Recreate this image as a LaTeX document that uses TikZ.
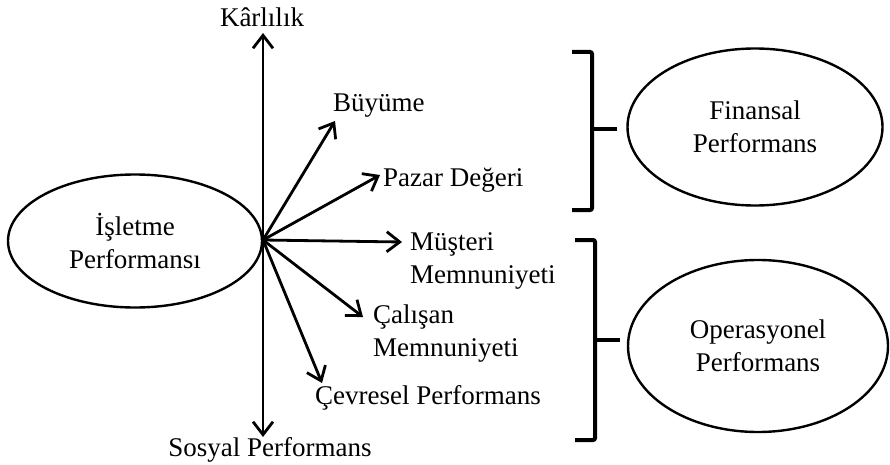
\documentclass[tikz,border=0pt]{standalone}
\usepackage{fontspec}
\setmainfont{Liberation Serif}
\usetikzlibrary{arrows.meta,shapes.geometric}
\tikzset{
  lbl/.style={inner sep=0pt, font=\fontsize{27}{33}\selectfont, align=left},
  oval/.style={draw, ellipse, line width=2.4pt, inner sep=0pt, font=\fontsize{27}{33}\selectfont, align=center},
  vec/.style={line width=2.8pt, -{Straight Barb[length=13pt,width=20pt,line width=2.8pt]}},
  brace/.style={line width=4pt, rounded corners=2pt}
}
\begin{document}
\begin{tikzpicture}[x=1pt,y=-1pt]
\useasboundingbox (0,0) rectangle (890,465);
% ellipses
\node[oval, minimum width=254pt, minimum height=133pt] (isl) at (135,241) {İşletme\\Performansı};
\node[oval, minimum width=255pt, minimum height=157pt] (fin) at (755,127) {Finansal\\Performans};
\node[oval, minimum width=260pt, minimum height=172pt] (ope) at (758,346) {Operasyonel\\Performans};
% centre
\coordinate (O) at (263,240);
% labels
\node[lbl] (kar) at (262,17) {Kârlılık};
\node[lbl, anchor=west] (buy) at (333,106) {Büyüme};
\node[lbl, anchor=west] (paz) at (383,180) {Pazar Değeri};
\node[lbl, anchor=west] (mus) at (410,261) {Müşteri\\Memnuniyeti};
\node[lbl, anchor=west] (cal) at (373,334) {Çalışan\\Memnuniyeti};
\node[lbl, anchor=west] (cev) at (315,398) {Çevresel Performans};
\node[lbl] (sos) at (270,450) {Sosyal Performans};
% arrow tips
\coordinate (tkar) at (263,33);
\coordinate (tbuy) at (335,121);
\coordinate (tpaz) at (380,175);
\coordinate (tmus) at (402,242);
\coordinate (tcal) at (363,317);
\coordinate (tcev) at (322,383);
\coordinate (tsos) at (263,437);
\foreach \t in {tkar,tbuy,tpaz,tmus,tcal,tcev,tsos}{\draw[vec] (O) -- (\t);}
% braces
\coordinate (b1t) at (572,52);
\coordinate (b1b) at (572,210);
\coordinate (b1m) at (617,129);
\draw[brace] (b1t) -- (592,52) -- (592,210) -- (b1b);
\draw[line width=4pt] (592,129) -- (b1m);
\coordinate (b2t) at (575,240);
\coordinate (b2b) at (575,440);
\coordinate (b2m) at (620,340);
\draw[brace] (b2t) -- (595,240) -- (595,440) -- (b2b);
\draw[line width=4pt] (595,340) -- (b2m);
\end{tikzpicture}
\end{document}
